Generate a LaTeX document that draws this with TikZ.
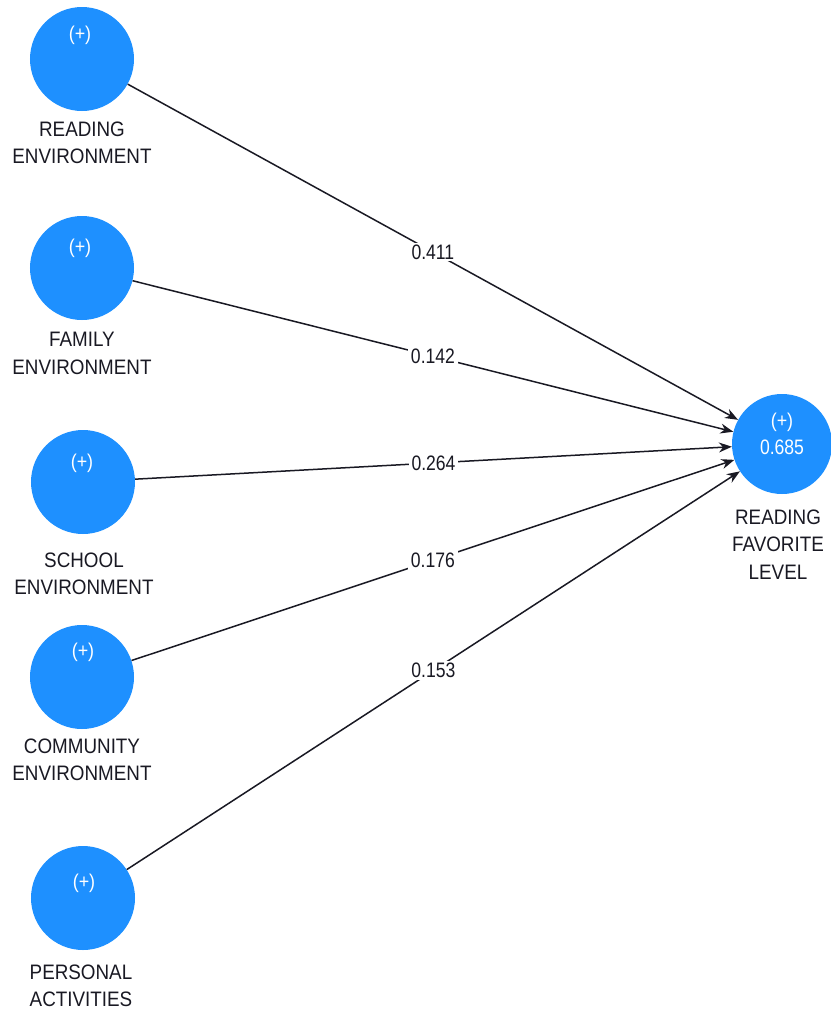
\documentclass[tikz,border=0pt]{standalone}
\usepackage{fontspec}
\setmainfont{Liberation Sans}
\newfontfamily\lblfont{Liberation Sans}[FakeStretch=0.9]
\newfontfamily\numfont{Liberation Sans}[FakeStretch=0.84]
\usetikzlibrary{arrows.meta}
\definecolor{nodeblue}{RGB}{30,144,255}
\definecolor{inkc}{RGB}{25,25,35}
\begin{document}
\begin{tikzpicture}[x=1bp,y=-1bp,
  latent/.style={circle, fill=nodeblue, draw=none, minimum size=104bp, inner sep=0pt},
  target/.style={circle, fill=nodeblue, draw=none, minimum size=100bp, inner sep=0pt},
  plus/.style={text=white, inner sep=0pt, font=\lblfont\fontsize{20}{22}\selectfont},
  lbl/.style={align=center, inner sep=0pt, text=inkc, font=\lblfont\fontsize{21}{27.5}\selectfont},
  edgeline/.style={draw=inkc, line width=1.5bp, -{Stealth[length=13bp,width=10bp]}},
  coef/.style={fill=white, inner xsep=3bp, inner ysep=2bp, text=inkc, font=\numfont\fontsize{21}{22}\selectfont}]
\useasboundingbox (0,0) rectangle (831,1011);

% source constructs
\node[latent] (re) at (82,59) {};
\node[plus] (rep) at (80,35) {(+)};
\node[lbl] (rel) at (82,142.5) {READING\\ENVIRONMENT};

\node[latent] (fe) at (82,268) {};
\node[plus] (fep) at (80,248) {(+)};
\node[lbl] (fel) at (82,353.5) {FAMILY\\ENVIRONMENT};

\node[latent] (se) at (83,482) {};
\node[plus] (sep) at (82,463) {(+)};
\node[lbl] (sel) at (84,573.5) {SCHOOL\\ENVIRONMENT};

\node[latent] (ce) at (82,677) {};
\node[plus] (cep) at (83,652) {(+)};
\node[lbl] (cel) at (82,760) {COMMUNITY\\ENVIRONMENT};

\node[latent] (pa) at (83,898) {};
\node[plus] (pap) at (84,883) {(+)};
\node[lbl] (pal) at (81,985.5) {PERSONAL\\ACTIVITIES};

% target construct
\node[target] (rf) at (782,444) {};
\node[plus] (rfp) at (782,422) {(+)};
\node[plus, font=\numfont\fontsize{21}{22}\selectfont] (rfr) at (782,447) {0.685};
\node[lbl] (rfl) at (778,544.5) {READING\\FAVORITE\\LEVEL};

% paths
\draw[edgeline] (re) -- node[coef] {0.411} (rf);
\draw[edgeline] (fe) -- node[coef] {0.142} (rf);
\draw[edgeline] (se) -- node[coef] {0.264} (rf);
\draw[edgeline] (ce) -- node[coef] {0.176} (rf);
\draw[edgeline] (pa) -- node[coef] {0.153} (rf);
\end{tikzpicture}
\end{document}
